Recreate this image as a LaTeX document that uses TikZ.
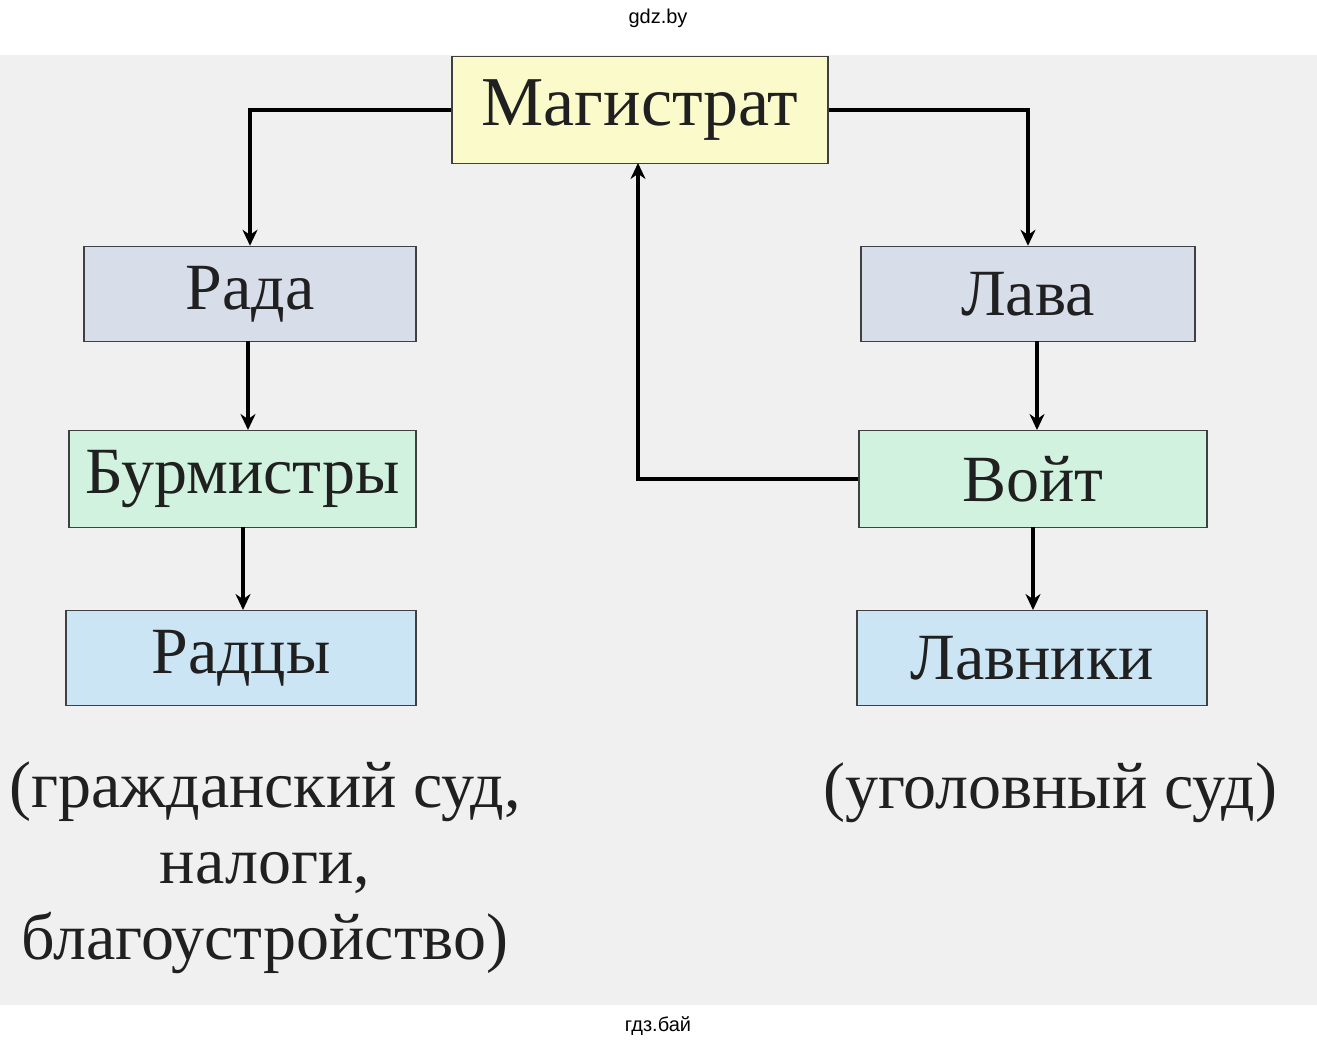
\documentclass[tikz,border=0pt]{standalone}
\usepackage{fontspec}
\setmainfont{Liberation Serif}
\newfontfamily\sans{Liberation Sans}
\usetikzlibrary{arrows.meta}
\definecolor{bg}{HTML}{F0F0F0}
\definecolor{cyel}{HTML}{FAFACA}
\definecolor{cgray}{HTML}{D8DDEA}
\definecolor{cgreen}{HTML}{D0F2DE}
\definecolor{cblue}{HTML}{CCE5F5}
\definecolor{txt}{HTML}{202020}
\begin{document}
\begin{tikzpicture}[x=1pt,y=-1pt,
  box/.style={draw=black!75,line width=1.5pt,inner sep=0pt,font=\fontsize{66}{70}\selectfont,text=txt},
  arr/.style={line width=4pt,-{Stealth[length=16pt,width=15pt]}},
  captext/.style={font=\fontsize{66}{76}\selectfont,text=txt,align=center}]
\useasboundingbox (0,0) rectangle (1317,1048);
\fill[bg] (0,55) rectangle (1317,1005);
\node[font=\sans\fontsize{20}{24}\selectfont] (top) at (658,18) {gdz.by};
\node[font=\sans\fontsize{20}{24}\selectfont] (bot) at (658,1026) {гдз.бай};
\node[box,fill=cyel,minimum width=376pt,minimum height=107pt,font=\fontsize{70}{74}\selectfont] (mag) at (640,110) {Магистрат};
\node[box,fill=cgray,minimum width=332pt,minimum height=95pt] (rada) at (250,294) {Рада};
\node[box,fill=cgray,minimum width=334pt,minimum height=95pt] (lava) at (1028,294) {Лава};
\node[box,fill=cgreen,minimum width=347pt,minimum height=97pt] (bur) at (242.5,479) {Бурмистры};
\node[box,fill=cgreen,minimum width=348pt,minimum height=97pt] (voit) at (1033,479) {Войт};
\node[box,fill=cblue,minimum width=350pt,minimum height=95pt] (radcy) at (241,658) {Радцы};
\node[box,fill=cblue,minimum width=350pt,minimum height=95pt] (lavn) at (1032,658) {Лавники};
\node[captext] (c1) at (265,868) {(гражданский суд,\\налоги,\\благоустройство)};
\node[captext] (c2) at (1050,793) {(уголовный суд)};
\draw[arr] (mag.west) -- (250,110) -- (rada.north);
\draw[arr] (mag.east) -- (1028,110) -- (lava.north);
\draw[arr] (248,341) -- (248,430);
\draw[arr] (243,527) -- (243,610);
\draw[arr] (1037,341) -- (1037,430);
\draw[arr] (1033,527) -- (1033,610);
\draw[arr] (voit.west) -- (638,479) -- (638,163);
\end{tikzpicture}
\end{document}
